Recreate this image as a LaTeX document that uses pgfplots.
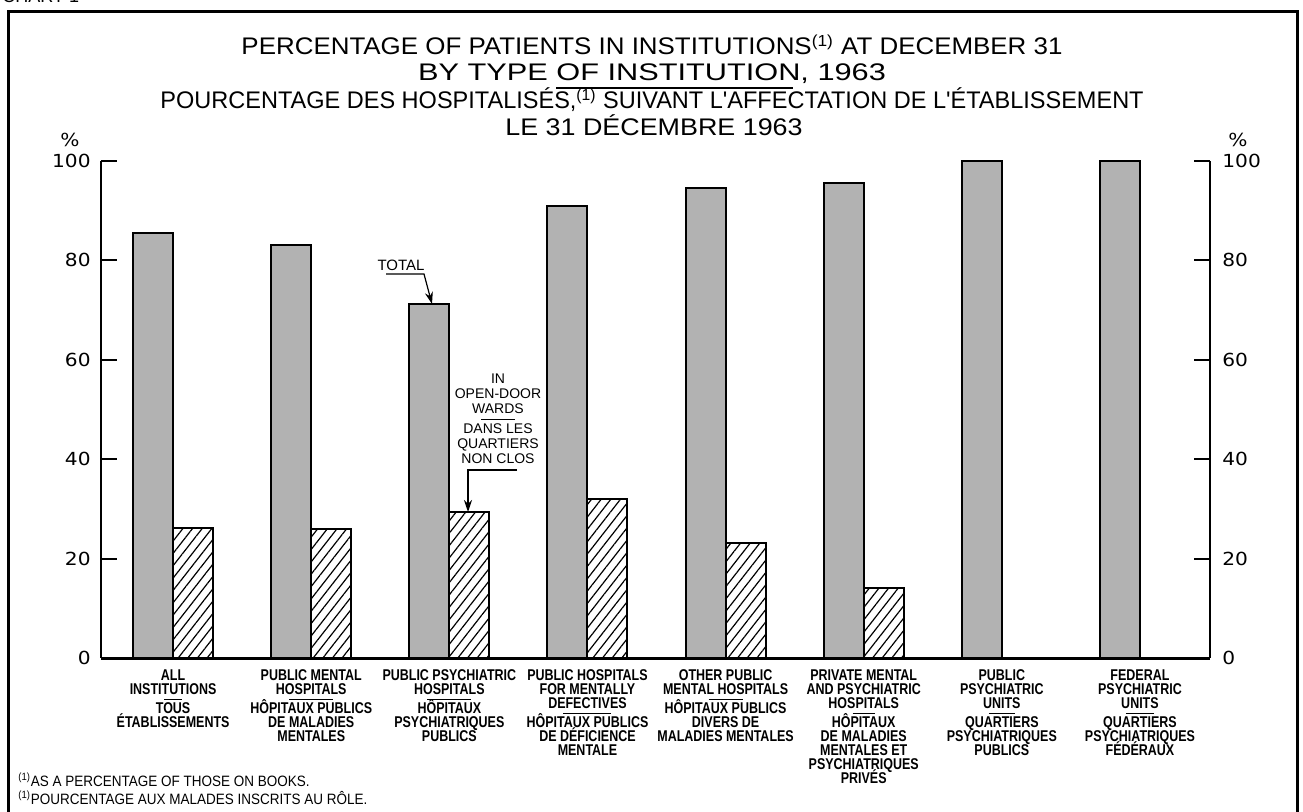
\documentclass[border=0pt]{standalone}
\usepackage{fontspec}
\usepackage{graphicx}
\setmainfont{Liberation Sans}
\newfontfamily\titlefont{Liberation Sans}
\newfontfamily\catfont[FakeStretch=0.8]{Liberation Sans}
\newfontfamily\tickfont[FakeStretch=1.12]{DejaVu Sans}
\usepackage{pgfplots}
\pgfplotsset{compat=1.18}
\usetikzlibrary{patterns.meta,arrows.meta}

% short rule between the English and the French names
\newcommand{\catsep}[1]{\\[-3pt]\rule[1pt]{#1}{0.7pt}\\[-1.3pt]}

\begin{document}
\lineskiplimit=-100pt
\begin{tikzpicture}[x=0.5pt,y=-0.5pt]
\useasboundingbox (0,0) rectangle (1303,812);
\clip (0,0) rectangle (1303,812);
\coordinate (O) at (101,658);

% frame
\draw[line width=1.5pt] (8,830) -- (8,12) -- (1297,12) -- (1297,830);
\node[anchor=base west, inner sep=0pt, font=\fontsize{9}{9}\selectfont] at (2,3) {CHART 1};

% titles
\begin{scope}[every node/.style={anchor=base, inner sep=0pt, font=\titlefont\fontsize{12}{12}\selectfont}]
\node at (652,55) {\scalebox{1.08}[1]{PERCENTAGE OF PATIENTS IN INSTITUTIONS\textsuperscript{(1)} AT DECEMBER 31}};
\node at (652,81) {\scalebox{1.28}[1]{BY TYPE OF INSTITUTION, 1963}};
\node at (652,109) {\scalebox{0.98}[1]{POURCENTAGE DES HOSPITALISÉS,\textsuperscript{(1)} SUIVANT L'AFFECTATION DE L'ÉTABLISSEMENT}};
\node at (654,136) {\scalebox{1.12}[1]{LE 31 DÉCEMBRE 1963}};
\end{scope}
\draw[line width=0.75pt] (556,88) -- (793,88);

\node[font=\tickfont\fontsize{9}{9}\selectfont] at (70,140) {\%};
\node[font=\tickfont\fontsize{9}{9}\selectfont] at (1238,140) {\%};

\begin{axis}[
    at={(O)}, anchor=south west,
    scale only axis,
    width=554.5pt, height=248.5pt,
    xmin=0.478, xmax=8.507,
    ymin=0, ymax=100,
    axis x line*=bottom, axis y line*=left,
    x axis line style={line width=1.5pt},
    y axis line style={line width=1pt},
    ybar=0pt, bar width=20pt,
    xtick={1,2,3,4,5,6,7,8},
    xtick style={draw=none},
    xticklabels={
        {ALL\\INSTITUTIONS\catsep{9pt}TOUS\\ÉTABLISSEMENTS},
        {PUBLIC MENTAL\\HOSPITALS\catsep{22pt}HÔPITAUX PUBLICS\\DE MALADIES\\MENTALES},
        {PUBLIC PSYCHIATRIC\\HOSPITALS\catsep{22pt}HÔPITAUX\\PSYCHIATRIQUES\\PUBLICS},
        {PUBLIC HOSPITALS\\FOR MENTALLY\\DEFECTIVES\catsep{24pt}HÔPITAUX PUBLICS\\DE DÉFICIENCE\\MENTALE},
        {OTHER PUBLIC\\MENTAL HOSPITALS\catsep{17pt}HÔPITAUX PUBLICS\\DIVERS DE\\MALADIES MENTALES},
        {PRIVATE MENTAL\\AND PSYCHIATRIC\\HOSPITALS\catsep{11pt}HÔPITAUX\\DE MALADIES\\MENTALES ET\\PSYCHIATRIQUES\\PRIVÉS},
        {PUBLIC\\PSYCHIATRIC\\UNITS\catsep{13pt}QUARTIERS\\PSYCHIATRIQUES\\PUBLICS},
        {FEDERAL\\PSYCHIATRIC\\UNITS\catsep{14pt}QUARTIERS\\PSYCHIATRIQUES\\FÉDÉRAUX}},
    xticklabel style={font=\catfont\fontsize{7.8}{7}\selectfont\bfseries,
        align=center, anchor=north, inner sep=0pt, yshift=-5.5pt},
    ytick={0,20,40,60,80,100},
    tick align=inside, major tick length=8pt,
    ytick style={line width=1pt, black},
    /pgf/number format/assume math mode=true,
    yticklabel style={font=\tickfont\fontsize{9}{9}\selectfont, inner sep=0pt, xshift=-5pt},
]
% total
\addplot[fill=black!30, draw=black, line width=1pt] coordinates {
    (1,85.6) (2,83.1) (3,71.2) (4,91.0) (5,94.5) (6,95.6) (7,100) (8,100)
};
% in open-door wards
\addplot[pattern={Lines[angle=52,distance=3.8pt,line width=0.6pt]}, draw=black, line width=1pt] coordinates {
    (1,26.2) (2,26.0) (3,29.4) (4,32.0) (5,23.1) (6,14.1)
};
\end{axis}

\begin{axis}[
    at={(O)}, anchor=south west,
    scale only axis,
    width=554.5pt, height=248.5pt,
    xmin=0.478, xmax=8.507,
    ymin=0, ymax=100,
    axis x line=none, axis y line*=right,
    y axis line style={line width=1pt},
    ytick={0,20,40,60,80,100},
    tick align=inside, major tick length=8pt,
    ytick style={line width=1pt, black},
    /pgf/number format/assume math mode=true,
    yticklabel style={font=\tickfont\fontsize{9}{9}\selectfont, inner sep=0pt, xshift=6pt},
]
\addplot[draw=none] coordinates {(1,0)};
\end{axis}

% annotations
\node[font=\titlefont\fontsize{7.5}{7.5}\selectfont, inner sep=0pt] at (401,265) {TOTAL};
\draw[line width=0.6pt, -{Stealth[length=6pt,width=4pt]}] (386,274) -- (424,274) -- (432,304);
\node[font=\titlefont\fontsize{7}{7.5}\selectfont, align=center, inner sep=0pt, anchor=north]
    at (498,373) {IN\\OPEN-DOOR\\WARDS\\[-3pt]\rule[1pt]{17pt}{0.6pt}\\[-1.8pt]DANS LES\\QUARTIERS\\NON CLOS};
\draw[line width=0.6pt, -{Stealth[length=6pt,width=4pt]}] (517,470) -- (468,470) -- (468,512);

% footnotes
\node[anchor=base west, inner sep=0pt, font=\titlefont\fontsize{7.5}{7.5}\selectfont] at (18,787)
    {\scalebox{0.9}[1]{\textsuperscript{(1)}AS A PERCENTAGE OF THOSE ON BOOKS.}};
\node[anchor=base west, inner sep=0pt, font=\titlefont\fontsize{7.5}{7.5}\selectfont] at (18,805)
    {\scalebox{0.9}[1]{\textsuperscript{(1)}POURCENTAGE AUX MALADES INSCRITS AU RÔLE.}};
\end{tikzpicture}
\end{document}
